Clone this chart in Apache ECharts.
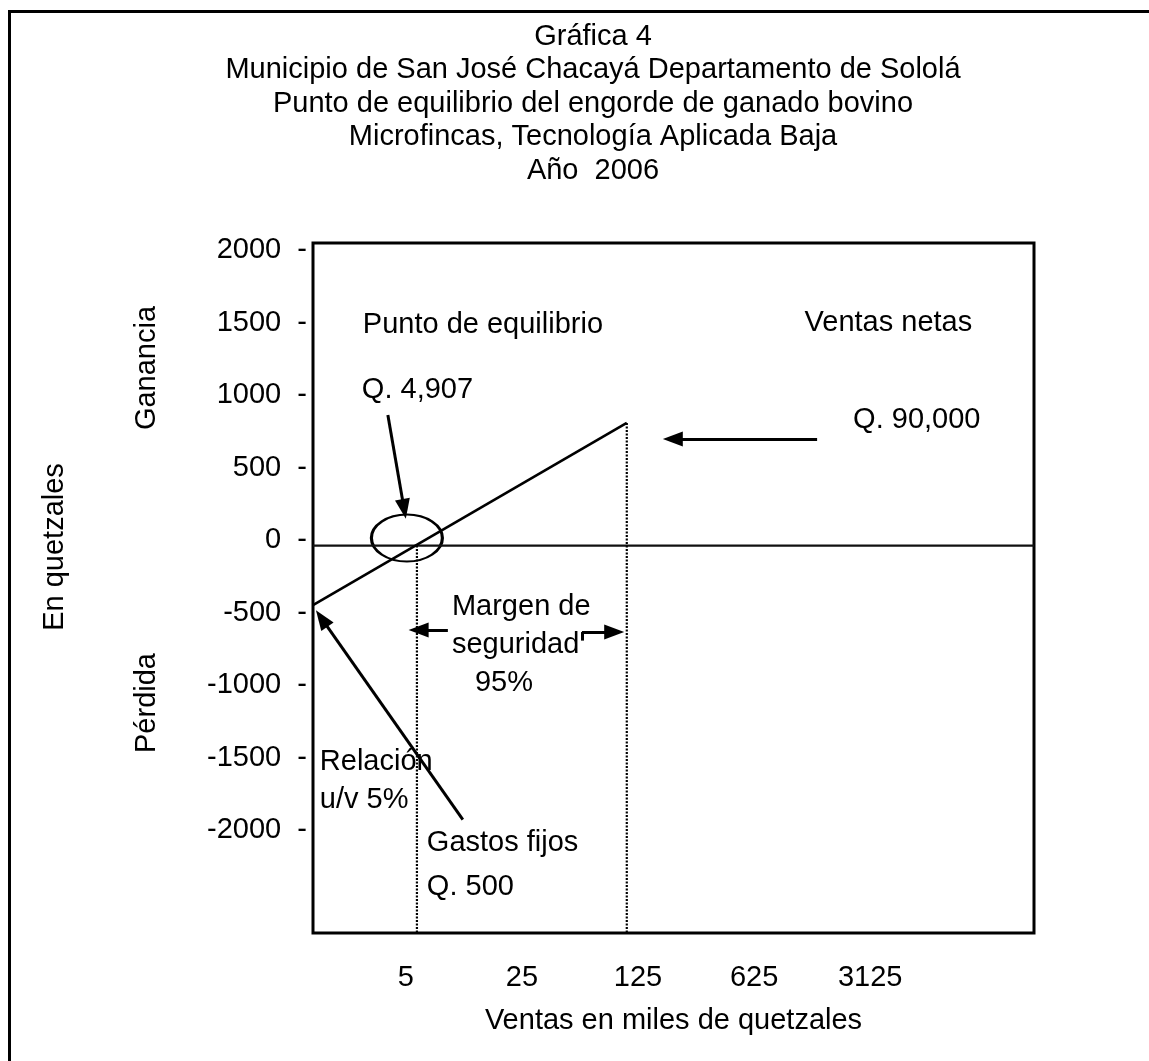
<!DOCTYPE html>
<html><head><meta charset="utf-8">
<script src="https://cdn.jsdelivr.net/npm/echarts@6/dist/echarts.min.js"></script>
<style>html,body{margin:0;padding:0;background:#fff}#c{width:1149px;height:1061px}</style>
</head><body><div id="c"></div>
<script>
// ---- data ----
const titleLines = ['Gráfica 4', 'Municipio de San José Chacayá Departamento de Sololá', 'Punto de equilibrio del engorde de ganado bovino', 'Microfincas, Tecnología Aplicada Baja', 'Año  2006'];
const xTickLabels = [5, 25, 125, 625, 3125];            // ventas en miles de quetzales (log base 5)
const yTickLabels = [2000, 1500, 1000, 500, 0, -500, -1000, -1500, -2000];
const lineSales = [1.38, 107];                           // ventas at the ends of the result line
const lineResult = [-447, 808];                          // ganancia / pérdida at those ends
const zeroLevel = -37;                                   // horizontal line
const breakEvenSales = 5.83;                             // punto de equilibrio
const netSales = 107;                                    // ventas netas
const xRange = [1.38, 30300];
const yRange = [-2707, 2048];

// ---- annotation anchors (log5 of x, y value) ----
const P = l => Math.pow(5, l);
const notes = [
  {t: 'Punto de equilibrio', p: [0.629, 1483]},
  {t: 'Ventas netas', p: [5.879, 1497], align: 'right'},
  {t: 'Q. 4,907', p: [0.621, 1036]},
  {t: 'Q. 90,000', p: [4.853, 829]},
  {t: 'Margen de', p: [1.397, -459]},
  {t: 'seguridad', p: [1.397, -721]},
  {t: '95%', p: [1.595, -982]},
  {t: 'Relación', p: [0.259, -1528]},
  {t: 'u/v 5%', p: [0.259, -1790]},
  {t: 'Gastos fijos', p: [1.181, -2087]},
  {t: 'Q. 500', p: [1.181, -2390]}
];
const arrows = [
  [[0.845, 863], [0.985, 215]],
  [[4.543, 697], [3.30, 697]],
  [[1.362, -619], [1.11, -619]],
  [[2.517, -633], [2.795, -633]],
  [[1.491, -1926], [0.275, -540]]
];

const FONT = 'Liberation Sans, Arial, sans-serif';
const FS = 29;
const chart = echarts.init(document.getElementById('c'), null, {renderer: 'canvas'});

const arrowData = arrows.map(a => [
  {coord: [P(a[0][0]), a[0][1]], symbol: 'none'},
  {coord: [P(a[1][0]), a[1][1]], symbol: 'triangle', symbolSize: [15, 20]}
]);
arrowData.push([
  {coord: [P(2.517), -692], symbol: 'none'},
  {coord: [P(2.517), -633], symbol: 'none'}
]);

chart.setOption({
  animation: false,
  backgroundColor: '#fff',
  textStyle: {fontFamily: FONT},
  title: {
    text: titleLines.join('\n'),
    left: 588, top: 15, textAlign: 'center',
    textStyle: {fontFamily: FONT, fontSize: FS, fontWeight: 'normal', color: '#000', lineHeight: 33.5}
  },
  grid: {left: 313, right: 115, top: 243, bottom: 128, show: true, borderColor: '#000', borderWidth: 3, backgroundColor: 'transparent'},
  xAxis: {
    type: 'log', logBase: 5, min: xRange[0], max: xRange[1],
    axisLine: {show: false}, axisTick: {show: false}, splitLine: {show: false}, minorTick: {show: false},
    axisLabel: {customValues: xTickLabels, margin: 30, fontSize: FS, color: '#000', fontFamily: FONT,
      formatter: v => String(Math.round(v))},
    name: 'Ventas en miles de quetzales', nameLocation: 'middle', nameGap: 73,
    nameTextStyle: {fontSize: FS, color: '#000', fontFamily: FONT}
  },
  yAxis: {
    type: 'value', min: yRange[0], max: yRange[1],
    axisLine: {show: false}, axisTick: {show: false}, splitLine: {show: false},
    axisLabel: {customValues: yTickLabels, margin: 6, fontSize: FS, color: '#000', fontFamily: FONT,
      formatter: v => v + '  -'}
  },
  graphic: [
    {type: 'rect', shape: {x: 9.5, y: 11.5, width: 1300, height: 1200}, style: {fill: 'none', stroke: '#000', lineWidth: 3}, silent: true},
    {type: 'text', x: 147, y: 368, rotation: Math.PI / 2, style: {text: 'Ganancia', font: FS + 'px ' + FONT, fill: '#000', align: 'center', verticalAlign: 'middle'}},
    {type: 'text', x: 55, y: 547, rotation: Math.PI / 2, style: {text: 'En quetzales', font: FS + 'px ' + FONT, fill: '#000', align: 'center', verticalAlign: 'middle'}},
    {type: 'text', x: 147, y: 703, rotation: Math.PI / 2, style: {text: 'Pérdida', font: FS + 'px ' + FONT, fill: '#000', align: 'center', verticalAlign: 'middle'}}
  ],
  series: [
    {type: 'line', name: 'cero', symbol: 'none', silent: true,
      lineStyle: {color: '#111', width: 2.2},
      data: [[xRange[0], zeroLevel], [xRange[1], zeroLevel]]},
    {type: 'line', name: 'resultado', symbol: 'none', silent: true,
      lineStyle: {color: '#000', width: 2.6},
      data: [[lineSales[0], lineResult[0]], [lineSales[1], lineResult[1]]]},
    {type: 'line', name: 'equilibrio', symbol: 'none', silent: true,
      lineStyle: {color: '#000', width: 2.2, type: [2, 1.5]},
      data: [[breakEvenSales, zeroLevel], [breakEvenSales, yRange[0]]]},
    {type: 'line', name: 'ventas netas', symbol: 'none', silent: true,
      lineStyle: {color: '#000', width: 2.2, type: [2, 1.5]},
      data: [[netSales, lineResult[1]], [netSales, yRange[0]]]},
    {type: 'scatter', name: 'elipse', silent: true, symbol: 'circle', symbolSize: [71, 47],
      itemStyle: {color: 'rgba(0,0,0,0)', borderColor: '#000', borderWidth: 2.6, opacity: 1},
      data: [[P(1.009), 15]]},
    {type: 'scatter', name: 'notas', silent: true, symbolSize: 0,
      itemStyle: {opacity: 1},
      label: {show: true, position: 'inside', formatter: '{b}', fontSize: FS, color: '#000', opacity: 1, fontFamily: FONT, verticalAlign: 'middle'},
      data: notes.map(n => ({name: n.t, value: [P(n.p[0]), n.p[1]], label: {align: n.align || 'left'}}))},
    {type: 'line', name: 'flechas', silent: true, data: [],
      markLine: {silent: true, animation: false, symbol: 'none', label: {show: false},
        lineStyle: {color: '#000', width: 3, type: 'solid', opacity: 1},
        itemStyle: {color: '#000'},
        data: arrowData}}
  ]
});
</script></body></html>
